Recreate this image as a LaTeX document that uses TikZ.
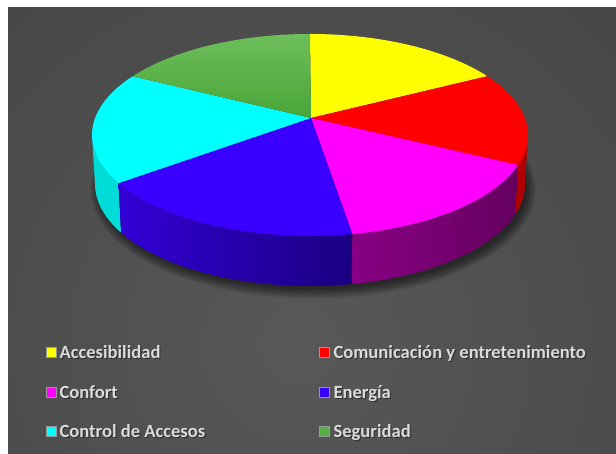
\documentclass[tikz,border=0pt]{standalone}
\usepackage{fontspec}
\setmainfont{Carlito}
\usetikzlibrary{calc}
\definecolor{pyellow}{HTML}{FFFF00}
\definecolor{pred}{HTML}{FF0000}
\definecolor{pmag}{HTML}{FF00FF}
\definecolor{pblue}{HTML}{3A00FF}
\definecolor{pcyan}{HTML}{00FFFF}
\definecolor{pgreenA}{HTML}{6DBE5B}
\definecolor{pgreenB}{HTML}{4AA537}
\definecolor{pgreen}{HTML}{55AF45}
\definecolor{scyan}{HTML}{00DCD8}
\definecolor{sblueL}{HTML}{3300D6}
\definecolor{sblueR}{HTML}{1A0080}
\definecolor{smagL}{HTML}{880084}
\definecolor{smagR}{HTML}{64005E}
\definecolor{sred}{HTML}{B00000}
\definecolor{bgin}{HTML}{585858}
\definecolor{bgout}{HTML}{3A3A3A}
\definecolor{legtxt}{HTML}{DCDCDC}
\tikzset{
  legtext/.style={anchor=base west, inner sep=0pt, text=legtxt, font=\bfseries\fontsize{18.6}{22}\selectfont},
  legshadow/.style={anchor=base west, inner sep=0pt, text=black, opacity=0.45, font=\bfseries\fontsize{18.6}{22}\selectfont},
  legbox/.style={minimum width=10pt, minimum height=10pt, inner sep=0pt, draw=black!40, line width=0.4pt},
  topr/.style={x radius=218pt, y radius=101pt},
  botr/.style={x radius=215pt, y radius=102pt}
}
\begin{document}
\begin{tikzpicture}[x=1pt,y=1pt]
\useasboundingbox (0,0) rectangle (616,454);
\fill[white] (0,0) rectangle (616,454);
% background
\begin{scope}
  \clip (8,0) rectangle (616,446);
  \fill[bgout] (8,0) rectangle (616,446);
  \shade[inner color=bgin, outer color=bgout] (300,110) circle (820pt);
\end{scope}
\coordinate (C) at (310,319);
\coordinate (Cb) at (310,270);
\coordinate (A) at (311,336);
% shadow
\foreach \k in {0,...,6}{
  \fill[black,opacity=0.09] ($(Cb)+(3,-5)$) ellipse [x radius=213pt+\k*1.6pt, y radius=100pt+\k*1.6pt];
}
% sides
\fill[scyan] ($(C)+(180:218pt and 101pt)$) arc[start angle=180,end angle=208.5,topr]
  -- ($(Cb)+(208.5:215pt and 102pt)$) arc[start angle=208.5,end angle=180,botr] -- cycle;
\shade[left color=sblueL, right color=sblueR] ($(C)+(-151.5:218pt and 101pt)$) arc[start angle=-151.5,end angle=-78.8,topr]
  -- ($(Cb)+(-78.8:215pt and 102pt)$) arc[start angle=-78.8,end angle=-151.5,botr] -- cycle;
\shade[left color=smagL, right color=smagR] ($(C)+(-78.8:218pt and 101pt)$) arc[start angle=-78.8,end angle=-17.3,topr]
  -- ($(Cb)+(-17.3:215pt and 102pt)$) arc[start angle=-17.3,end angle=-78.8,botr] -- cycle;
\fill[sred] ($(C)+(-17.3:218pt and 101pt)$) arc[start angle=-17.3,end angle=0,topr]
  -- ($(Cb)+(0:215pt and 102pt)$) arc[start angle=0,end angle=-17.3,botr] -- cycle;
% top wedges
\fill[pyellow] (A) -- ($(C)+(90:218pt and 101pt)$) arc[start angle=90,end angle=35.6,topr] -- cycle;
\fill[pred] (A) -- ($(C)+(35.6:218pt and 101pt)$) arc[start angle=35.6,end angle=-17.3,topr] -- cycle;
\fill[pmag] (A) -- ($(C)+(-17.3:218pt and 101pt)$) arc[start angle=-17.3,end angle=-78.8,topr] -- cycle;
\fill[pblue] (A) -- ($(C)+(-78.8:218pt and 101pt)$) arc[start angle=-78.8,end angle=-151.5,topr] -- cycle;
\fill[pcyan] (A) -- ($(C)+(-151.5:218pt and 101pt)$) arc[start angle=-151.5,end angle=-215.5,topr] -- cycle;
\shade[top color=pgreenA, bottom color=pgreenB] (A) -- ($(C)+(144.5:218pt and 101pt)$) arc[start angle=144.5,end angle=90,topr] -- cycle;
% legend
\node[legbox, fill=pyellow] (b1) at (51,102) {};
\node[legbox, fill=pred] (b2) at (324.5,102) {};
\node[legbox, fill=pmag] (b3) at (51,62) {};
\node[legbox, fill=pblue] (b4) at (324.5,62) {};
\node[legbox, fill=pcyan] (b5) at (51,22.3) {};
\node[legbox, fill=pgreen] (b6) at (324.5,22.3) {};
\node[legshadow] (s1) at (60.3,94.8) {Accesibilidad};
\node[legshadow] (s2) at (334.3,94.8) {Comunicación y entretenimiento};
\node[legshadow] (s3) at (60.3,54.8) {Confort};
\node[legshadow] (s4) at (334.3,54.8) {Energía};
\node[legshadow] (s5) at (60.3,15.1) {Control de Accesos};
\node[legshadow] (s6) at (334.3,15.1) {Seguridad};
\node[legtext] (t1) at (59.3,95.8) {Accesibilidad};
\node[legtext] (t2) at (333.3,95.8) {Comunicación y entretenimiento};
\node[legtext] (t3) at (59.3,55.8) {Confort};
\node[legtext] (t4) at (333.3,55.8) {Energía};
\node[legtext] (t5) at (59.3,16.1) {Control de Accesos};
\node[legtext] (t6) at (333.3,16.1) {Seguridad};
\end{tikzpicture}
\end{document}
